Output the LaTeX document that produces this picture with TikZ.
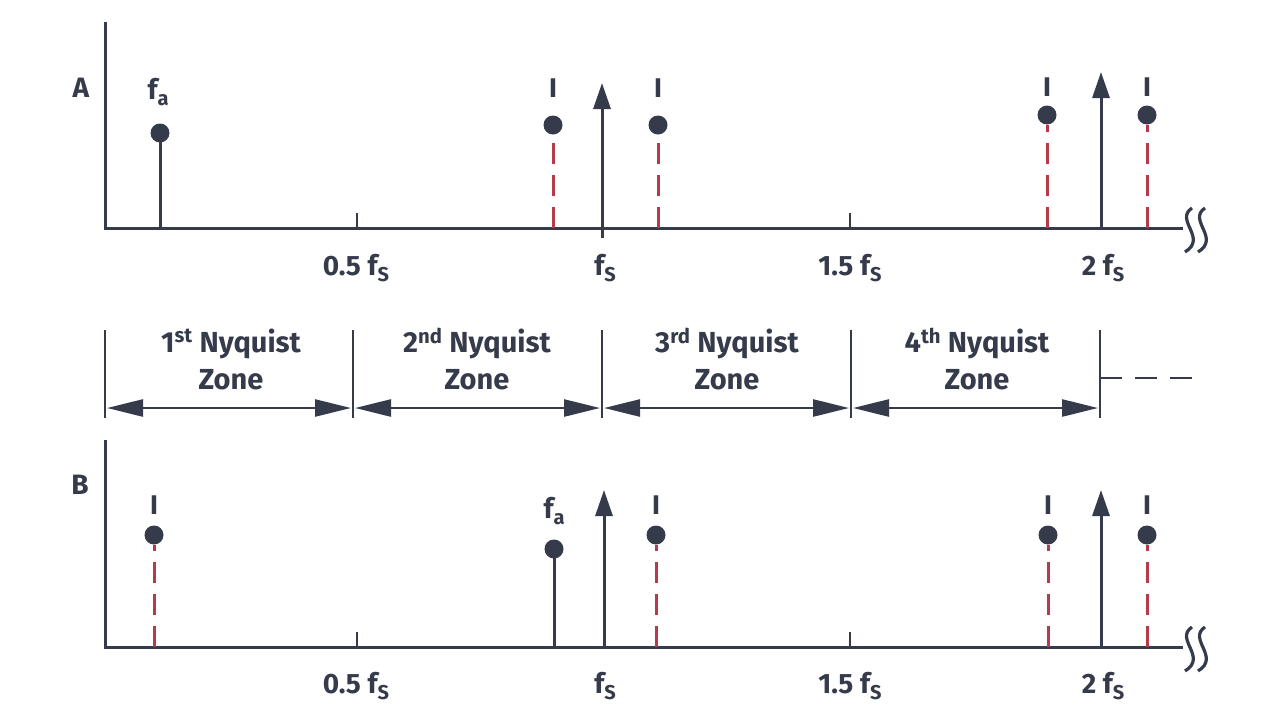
\documentclass[tikz,border=0pt]{standalone}
\usepackage{fontspec}
\setmainfont{Fira Sans}
\usetikzlibrary{arrows.meta}
\definecolor{ink}{HTML}{363B4C}
\definecolor{redd}{HTML}{B53A4A}
\newcommand\ssub[1]{\raisebox{-0.45ex}{\fontsize{20}{20}\selectfont #1}}
\tikzset{
  axisline/.style={draw=ink,line width=3pt},
  stem/.style={draw=ink,line width=3pt},
  imgstem/.style={draw=redd,line width=3pt,dash pattern=on 21pt off 11pt},
  dotnode/.style={circle,fill=ink,inner sep=0pt,minimum size=19pt},
  lbl/.style={font=\fontsize{28}{28}\selectfont\bfseries,text=ink,inner sep=0pt},
  imark/.style={font=\fontsize{27}{27}\selectfont\bfseries,text=ink,inner sep=0pt},
  zonetxt/.style={font=\fontsize{29}{37}\selectfont\bfseries,text=ink,align=center,inner sep=0pt},
  carrier/.style={draw=ink,line width=3pt,-{Triangle[length=26pt,width=17pt]}},
  zonearrow/.style={draw=ink,line width=2.5pt,{Triangle[length=36pt,width=17pt]}-{Triangle[length=36pt,width=17pt]}},
  squig/.style={draw=ink,line width=3.2pt},
}
\begin{document}
\begin{tikzpicture}[x=1pt,y=-1pt]
\useasboundingbox (0,0) rectangle (1280,720);

% ================= Panel A =================
\coordinate (aTop) at (105,22);
\coordinate (aO) at (105,228);
\coordinate (aEnd) at (1183,228);
\draw[axisline] (aTop) -- (aO) -- (aEnd);
\node[lbl] (labA) at (81,88) {A};
% squiggle
\coordinate (sqA1s) at (1192,208); \coordinate (sqA1e) at (1185,252);
\coordinate (sqA2s) at (1205,208); \coordinate (sqA2e) at (1198,252);
\draw[squig] (sqA1s) .. controls (1174,220) and (1208,238) .. (sqA1e);
\draw[squig] (sqA2s) .. controls (1187,220) and (1221,238) .. (sqA2e);
% ticks
\coordinate (aT05a) at (357,213); \coordinate (aT05b) at (357,228);
\coordinate (aT15a) at (850,213); \coordinate (aT15b) at (850,228);
\draw[axisline,line width=2pt] (aT05a) -- (aT05b);
\draw[axisline,line width=2pt] (aT15a) -- (aT15b);
% tick labels
\node[lbl] (aL05) at (356,268) {0.5 f\ssub{S}};
\node[lbl] (aL1) at (605,268) {f\ssub{S}};
\node[lbl] (aL15) at (850,268) {1.5 f\ssub{S}};
\node[lbl] (aL2) at (1103,268) {2 f\ssub{S}};
% fa
\coordinate (aFaB) at (160,228);
\node[dotnode] (aFa) at (160,133) {};
\draw[stem] (aFaB) -- (aFa.center);
\node[lbl] (aFaL) at (158,92) {f\ssub{a}};
% images near fs
\coordinate (aI1B) at (553,228);
\node[dotnode] (aI1) at (553,125) {};
\draw[imgstem] (aI1B) -- (aI1.south);
\node[imark] (aI1m) at (553,88) {I};
\coordinate (aI2B) at (658,228);
\node[dotnode] (aI2) at (658,125) {};
\draw[imgstem] (aI2B) -- (aI2.south);
\node[imark] (aI2m) at (658,88) {I};
% carrier fs
\coordinate (aC1B) at (602,238);
\coordinate (aC1T) at (602,83);
\draw[carrier] (aC1B) -- (aC1T);
% images near 2fs
\coordinate (aI3B) at (1047,228);
\node[dotnode] (aI3) at (1047,115) {};
\draw[imgstem] (aI3B) -- (aI3.south);
\node[imark] (aI3m) at (1047,87) {I};
\coordinate (aI4B) at (1147,228);
\node[dotnode] (aI4) at (1147,115) {};
\draw[imgstem] (aI4B) -- (aI4.south);
\node[imark] (aI4m) at (1147,87) {I};
\coordinate (aC2B) at (1101,228);
\coordinate (aC2T) at (1101,72);
\draw[carrier] (aC2B) -- (aC2T);

% ================= Nyquist zones =================
\foreach \n/\x in {z0/105,z1/353,z2/602,z3/851,z4/1100}{
  \coordinate (\n t) at (\x,330);
  \coordinate (\n b) at (\x,418);
  \coordinate (\n m) at (\x,408);
  \draw[axisline,line width=2.5pt] (\n t) -- (\n b);
}
\draw[zonearrow] ([xshift=2pt]z0m) -- ([xshift=-2pt]z1m);
\draw[zonearrow] ([xshift=2pt]z1m) -- ([xshift=-2pt]z2m);
\draw[zonearrow] ([xshift=2pt]z2m) -- ([xshift=-2pt]z3m);
\draw[zonearrow] ([xshift=2pt]z3m) -- ([xshift=-2pt]z4m);
\node[zonetxt] (zt1) at (231,359) {1\textsuperscript{st} Nyquist\\Zone};
\node[zonetxt] (zt2) at (477,359) {2\textsuperscript{nd} Nyquist\\Zone};
\node[zonetxt] (zt3) at (727,359) {3\textsuperscript{rd} Nyquist\\Zone};
\node[zonetxt] (zt4) at (977,359) {4\textsuperscript{th} Nyquist\\Zone};
\coordinate (zdA) at (1100,378);
\coordinate (zdB) at (1196,378);
\draw[axisline,line width=2.5pt,dash pattern=on 22pt off 13pt] (zdA) -- (zdB);

% ================= Panel B =================
\coordinate (bTop) at (105,440);
\coordinate (bO) at (105,647);
\coordinate (bEnd) at (1183,647);
\draw[axisline] (bTop) -- (bO) -- (bEnd);
\node[lbl] (labB) at (80,485) {B};
\coordinate (sqB1s) at (1192,627); \coordinate (sqB1e) at (1185,671);
\coordinate (sqB2s) at (1205,627); \coordinate (sqB2e) at (1198,671);
\draw[squig] (sqB1s) .. controls (1174,639) and (1208,657) .. (sqB1e);
\draw[squig] (sqB2s) .. controls (1187,639) and (1221,657) .. (sqB2e);
\coordinate (bT05a) at (357,632); \coordinate (bT05b) at (357,647);
\coordinate (bT15a) at (850,632); \coordinate (bT15b) at (850,647);
\draw[axisline,line width=2pt] (bT05a) -- (bT05b);
\draw[axisline,line width=2pt] (bT15a) -- (bT15b);
\node[lbl] (bL05) at (356,686) {0.5 f\ssub{S}};
\node[lbl] (bL1) at (605,686) {f\ssub{S}};
\node[lbl] (bL15) at (850,686) {1.5 f\ssub{S}};
\node[lbl] (bL2) at (1103,686) {2 f\ssub{S}};
% image in 1st zone
\coordinate (bI1B) at (154,647);
\node[dotnode] (bI1) at (154,535) {};
\draw[imgstem] (bI1B) -- (bI1.south);
\node[imark] (bI1m) at (154,505) {I};
% fa
\coordinate (bFaB) at (554,647);
\node[dotnode] (bFa) at (554,549) {};
\draw[stem] (bFaB) -- (bFa.center);
\node[lbl] (bFaL) at (554,511) {f\ssub{a}};
% carrier fs
\coordinate (bC1B) at (604,647);
\coordinate (bC1T) at (604,490);
\draw[carrier] (bC1B) -- (bC1T);
\coordinate (bI2B) at (656,647);
\node[dotnode] (bI2) at (656,535) {};
\draw[imgstem] (bI2B) -- (bI2.south);
\node[imark] (bI2m) at (656,505) {I};
% 2fs
\coordinate (bI3B) at (1048,647);
\node[dotnode] (bI3) at (1048,535) {};
\draw[imgstem] (bI3B) -- (bI3.south);
\node[imark] (bI3m) at (1048,505) {I};
\coordinate (bI4B) at (1147,647);
\node[dotnode] (bI4) at (1147,535) {};
\draw[imgstem] (bI4B) -- (bI4.south);
\node[imark] (bI4m) at (1147,505) {I};
\coordinate (bC2B) at (1101,647);
\coordinate (bC2T) at (1101,490);
\draw[carrier] (bC2B) -- (bC2T);
\end{tikzpicture}
\end{document}
